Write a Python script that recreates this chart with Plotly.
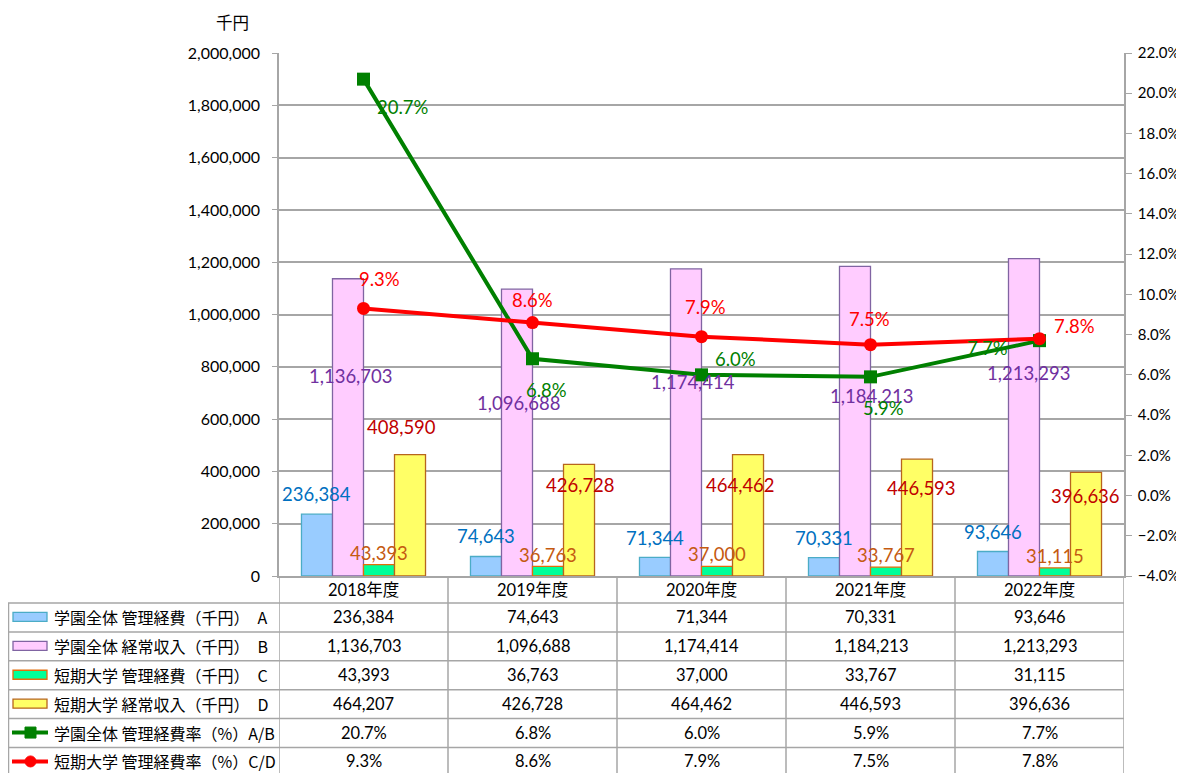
import plotly.graph_objects as go

# ---------------- data ----------------
years = ["2018年度", "2019年度", "2020年度", "2021年度", "2022年度"]
a_mgmt = [236384, 74643, 71344, 70331, 93646]            # 学園全体 管理経費 A
b_income = [1136703, 1096688, 1174414, 1184213, 1213293]  # 学園全体 経常収入 B
c_mgmt = [43393, 36763, 37000, 33767, 31115]              # 短期大学 管理経費 C
d_income = [464207, 426728, 464462, 446593, 396636]       # 短期大学 経常収入 D
ab_rate = [20.7, 6.8, 6.0, 5.9, 7.7]                      # A/B (%)
cd_rate = [9.3, 8.6, 7.9, 7.5, 7.8]                       # C/D (%)
d_label_text = ["408,590", "426,728", "464,462", "446,593", "396,636"]  # labels shown on D bars

series_names = [
    "学園全体 管理経費（千円）　A",
    "学園全体 経常収入（千円）　B",
    "短期大学 管理経費（千円）　C",
    "短期大学 経常収入（千円）　D",
    "学園全体 管理経費率（%）A/B",
    "短期大学 管理経費率（%）C/D",
]

# ---------------- styles ----------------
OX, OY = 8, 8          # page body margin offset of the figure
W, H = 1184 - OX, 773 - OY
ML, MT = 279 - OX, 53 - OY
PW, PH = 845, 523
MR, MB = W - ML - PW, H - MT - PH
BASE = 576  # page pixel y of plot bottom

NUM_FONT = "Lato, 'Noto Sans CJK JP', sans-serif"
JP_FONT = "'Noto Sans CJK JP', Lato, sans-serif"
GRID = "#A6A6A6"
BARGAP = 0.266

bar_fill = ["#99CCFF", "#FFCCFF", "#00FF99", "#FFFF66"]
bar_line = ["#4BACC6", "#8064A2", "#E46C0A", "#B7651D"]
bar_label_color = ["#0070C0", "#7030A0", "#C55A11", "#C00000"]
line_color = ["#008000", "#FF0000"]
line_symbol = ["square", "circle"]

# label offsets in pixels (dx right, dy down) relative to bar top / point
a_dx, a_dy = [0, 0, 0, 0, 0], [-20, -20, -19, -20, -20]
b_dx, b_dy = [3, 2, 7, 17, 5], [97, 114, 113, 130, 114]
c_dx, c_dy = [0, 0, 0, 0, 0], [-12, -11, -12, -12, -12]
d_dx, d_dy = [-9, 1, -8, 4, -1], [-28, 21, 30, 29, 24]
ab_dx, ab_dy = [39, 14, 34, 13, -52], [28, 31, -16, 31, 7]
cd_dx, cd_dy = [16, 0, 4, -1, 35], [-29, -23, -30, -26, -13]


def px_x(px):
    """page pixel x -> paper coordinate"""
    return (px - 279) / PW


def px_y(py):
    """page pixel y -> paper coordinate"""
    return (BASE - py) / PH


fig = go.Figure()

bar_values = [a_mgmt, b_income, c_mgmt, d_income]
for j, vals in enumerate(bar_values):
    fig.add_trace(go.Bar(
        x=years, y=vals, name=series_names[j],
        marker=dict(color=bar_fill[j], line=dict(color=bar_line[j], width=1.3)),
        yaxis="y",
    ))

for j, vals in enumerate([ab_rate, cd_rate]):
    fig.add_trace(go.Scatter(
        x=years, y=vals, name=series_names[4 + j], mode="lines+markers",
        line=dict(color=line_color[j], width=4),
        marker=dict(symbol=line_symbol[j], size=13, color=line_color[j]),
        yaxis="y2",
    ))

annotations = []

# bar data labels
w = (1 - BARGAP) / 4
offsets = [-1.5 * w, -0.5 * w, 0.5 * w, 1.5 * w]
bar_texts = [
    [f"{v:,}" for v in a_mgmt],
    [f"{v:,}" for v in b_income],
    [f"{v:,}" for v in c_mgmt],
    d_label_text,
]
bar_dx = [a_dx, b_dx, c_dx, d_dx]
bar_dy = [a_dy, b_dy, c_dy, d_dy]
for j, vals in enumerate(bar_values):
    for i, v in enumerate(vals):
        annotations.append(dict(
            x=i + offsets[j], y=v, xref="x", yref="y",
            text=bar_texts[j][i], showarrow=False,
            xanchor="center", yanchor="middle",
            xshift=bar_dx[j][i], yshift=-bar_dy[j][i],
            font=dict(family=NUM_FONT, size=18.5, color=bar_label_color[j]),
        ))

# line data labels
for j, (vals, dxs, dys) in enumerate([(ab_rate, ab_dx, ab_dy), (cd_rate, cd_dx, cd_dy)]):
    for i, v in enumerate(vals):
        annotations.append(dict(
            x=i, y=v, xref="x", yref="y2",
            text=f"{v:.1f}%", showarrow=False,
            xanchor="center", yanchor="middle",
            xshift=dxs[i], yshift=-dys[i],
            font=dict(family=NUM_FONT, size=18.5, color=line_color[j]),
        ))

# unit label
annotations.append(dict(
    x=px_x(232), y=px_y(22), xref="paper", yref="paper", text="千円",
    showarrow=False, xanchor="center", yanchor="middle",
    font=dict(family=JP_FONT, size=16.5, color="#000000"),
))

# ---------------- data table ----------------
shapes = []
header_top, header_bot = 576, 603
row_h = 28.9
n_rows = 6
row_edges = [header_bot + k * row_h for k in range(n_rows + 1)]
table_left = 8
table_right = 279 + PW

# header labels
for i, yr in enumerate(years):
    annotations.append(dict(
        x=i, y=px_y((header_top + header_bot) / 2), xref="x", yref="paper",
        text=yr, showarrow=False, xanchor="center", yanchor="middle",
        font=dict(family=NUM_FONT, size=16.5, color="#000000"),
    ))

# horizontal lines
for yy in row_edges:
    shapes.append(dict(type="line", xref="paper", yref="paper",
                       x0=px_x(table_left), x1=px_x(table_right), y0=px_y(yy), y1=px_y(yy),
                       line=dict(color=GRID, width=1.5)))
# vertical lines at category boundaries
for k in range(len(years) + 1):
    shapes.append(dict(type="line", xref="x", yref="paper",
                       x0=k - 0.5, x1=k - 0.5, y0=px_y(header_top), y1=px_y(row_edges[-1]),
                       line=dict(color=GRID, width=1.5)))
# left border of legend column
shapes.append(dict(type="line", xref="paper", yref="paper",
                   x0=px_x(table_left + 0.5), x1=px_x(table_left + 0.5),
                   y0=px_y(header_bot), y1=px_y(row_edges[-1]),
                   line=dict(color=GRID, width=1.5)))

cell_texts = [
    [f"{v:,}" for v in a_mgmt],
    [f"{v:,}" for v in b_income],
    [f"{v:,}" for v in c_mgmt],
    [f"{v:,}" for v in d_income],
    [f"{v:.1f}%" for v in ab_rate],
    [f"{v:.1f}%" for v in cd_rate],
]
for r in range(n_rows):
    yc = (row_edges[r] + row_edges[r + 1]) / 2 - 0.5
    for i in range(len(years)):
        annotations.append(dict(
            x=i, y=px_y(yc), xref="x", yref="paper",
            text=cell_texts[r][i], showarrow=False, xanchor="center", yanchor="middle",
            font=dict(family=NUM_FONT, size=16.5, color="#000000"),
        ))
    # legend text
    annotations.append(dict(
        x=px_x(52), y=px_y(yc), xref="paper", yref="paper",
        text=series_names[r], showarrow=False, xanchor="left", yanchor="middle",
        font=dict(family=JP_FONT, size=16, color="#000000"),
    ))
    # legend keys
    if r < 4:
        shapes.append(dict(type="rect", xref="paper", yref="paper",
                           x0=px_x(13), x1=px_x(47), y0=px_y(yc - 4.5), y1=px_y(yc + 4.5),
                           fillcolor=bar_fill[r], line=dict(color=bar_line[r], width=1.3)))
    else:
        j = r - 4
        shapes.append(dict(type="line", xref="paper", yref="paper",
                           x0=px_x(12), x1=px_x(48), y0=px_y(yc), y1=px_y(yc),
                           line=dict(color=line_color[j], width=4)))
        shapes.append(dict(type="rect" if j == 0 else "circle", xref="paper", yref="paper",
                           x0=px_x(25), x1=px_x(36), y0=px_y(yc - 5.5), y1=px_y(yc + 5.5),
                           fillcolor=line_color[j], line=dict(color=line_color[j], width=1)))

fig.update_layout(
    width=W, height=H,
    margin=dict(l=ML, r=MR, t=MT, b=MB, pad=0, autoexpand=False),
    paper_bgcolor="white", plot_bgcolor="white",
    barmode="group", bargap=BARGAP, bargroupgap=0,
    showlegend=False,
    annotations=annotations, shapes=shapes,
    xaxis=dict(type="category", showticklabels=False, ticks="", automargin=False,
               showline=True, linecolor=GRID, linewidth=1.5, showgrid=False,
               range=[-0.5, len(years) - 0.5], fixedrange=True),
    yaxis=dict(range=[0, 2000000], dtick=200000, tickformat=",", automargin=False,
               showgrid=True, gridcolor=GRID, gridwidth=1.5,
               showline=True, linecolor=GRID, linewidth=1.5,
               ticks="outside", ticklen=5, tickcolor=GRID, ticklabelstandoff=9,
               tickfont=dict(family=NUM_FONT, size=16, color="#000000"),
               zeroline=False),
    yaxis2=dict(range=[-4, 22], dtick=2, tickformat=".1f", ticksuffix="%", automargin=False,
                overlaying="y", side="right", showgrid=False,
                showline=True, linecolor=GRID, linewidth=1.5,
                ticks="outside", ticklen=6, tickcolor=GRID, ticklabelstandoff=3,
                tickfont=dict(family=NUM_FONT, size=15, color="#000000"),
                zeroline=False),
)

fig.write_html("out.html")
